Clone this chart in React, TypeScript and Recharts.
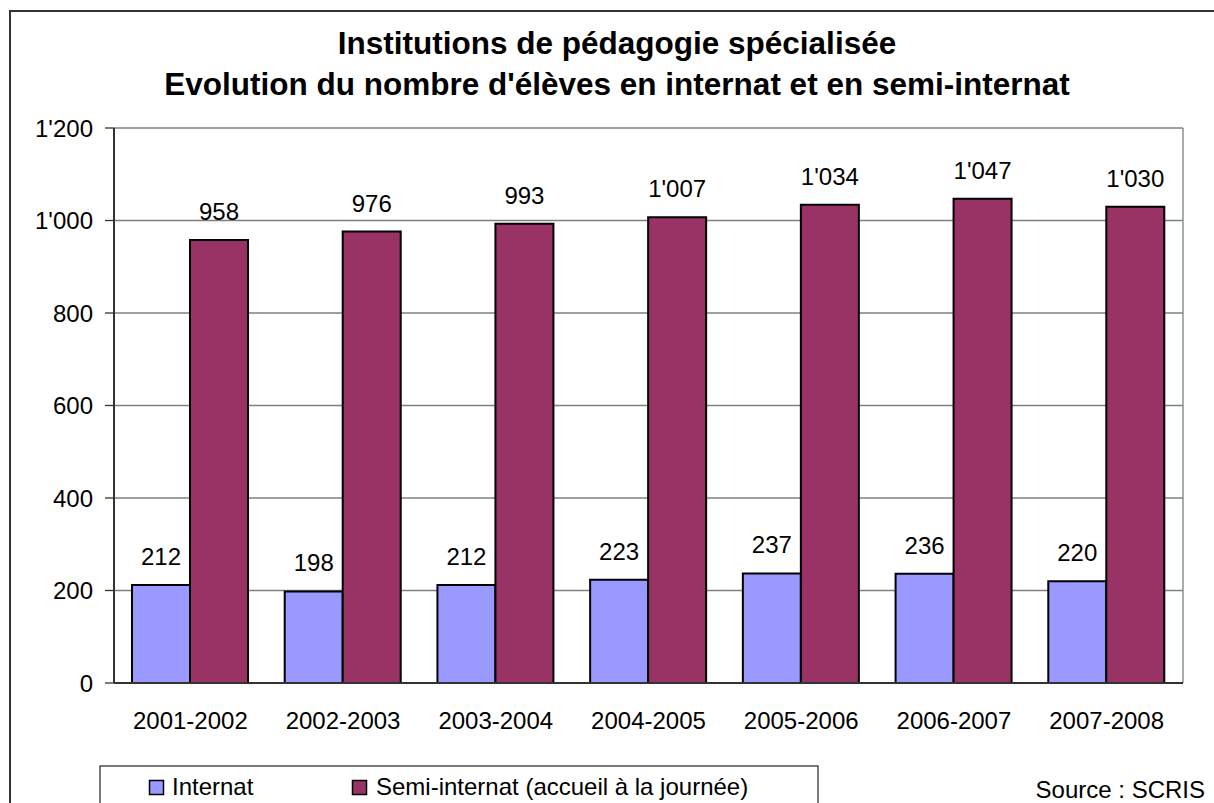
import React from "react";
import {
  BarChart,
  Bar,
  XAxis,
  YAxis,
  CartesianGrid,
  LabelList,
} from "recharts";

const years = [
  "2001-2002",
  "2002-2003",
  "2003-2004",
  "2004-2005",
  "2005-2006",
  "2006-2007",
  "2007-2008",
];
const internat = [212, 198, 212, 223, 237, 236, 220];
const semiInternat = [958, 976, 993, 1007, 1034, 1047, 1030];
const yTicks = [0, 200, 400, 600, 800, 1000, 1200];

const titleLines = [
  "Institutions de pédagogie spécialisée",
  "Evolution du nombre d'élèves en internat et en semi-internat",
];
const seriesNames = ["Internat", "Semi-internat (accueil à la journée)"];
const source = "Source : SCRIS";

const COLOR_INT = "#9999FF";
const COLOR_SEMI = "#993366";
const FONT = "'Liberation Sans', Arial, Helvetica, sans-serif";

const data = years.map((y, i) => ({
  year: y,
  internat: internat[i],
  semi: semiInternat[i],
}));

// swiss style thousands: 1'000
function fmt(v: number): string {
  return String(v).replace(/\B(?=(\d{3})+(?!\d))/g, "'");
}

export default function App() {
  return (
    <div
      style={{
        position: "absolute",
        left: 0,
        top: 0,
        width: 1214,
        height: 803,
        overflow: "hidden",
        background: "#fff",
        fontFamily: FONT,
      }}
    >
      {/* outer frame, cut off on the right and bottom */}
      <div
        style={{
          position: "absolute",
          left: 9,
          top: 10,
          width: 1300,
          height: 900,
          border: "2px solid #333",
        }}
      />
      <div style={{ position: "absolute", left: 0, top: 0 }}>
        <BarChart
          width={1214}
          height={803}
          data={data}
          margin={{ top: 128, right: 31, bottom: 80, left: 0 }}
          barCategoryGap={18}
          barGap={0}
        >
          <CartesianGrid
            stroke="#808080"
            strokeWidth={1.3}
            verticalCoordinatesGenerator={({ offset }: any) => [
              offset.left + offset.width,
            ]}
          />
          <XAxis
            dataKey="year"
            height={40}
            tickLine={false}
            tickSize={0}
            tickMargin={29}
            axisLine={{ stroke: "#333", strokeWidth: 2 }}
            tick={{ fill: "#000", fontSize: 24, fontFamily: FONT }}
          />
          <YAxis
            width={114}
            domain={[0, 1200]}
            ticks={yTicks}
            interval={0}
            tickFormatter={fmt}
            tickSize={9}
            tickMargin={12}
            axisLine={{ stroke: "#333", strokeWidth: 2 }}
            tickLine={{ stroke: "#333", strokeWidth: 1.3 }}
            tick={{ fill: "#000", fontSize: 24, fontFamily: FONT }}
          />
          <Bar
            dataKey="internat"
            fill={COLOR_INT}
            stroke="#000"
            strokeWidth={2}
            isAnimationActive={false}
          >
            <LabelList
              dataKey="internat"
              position="top"
              offset={20}
              formatter={(v: any) => fmt(Number(v))}
              style={{ fill: "#000", fontSize: 24, fontFamily: FONT }}
            />
          </Bar>
          <Bar
            dataKey="semi"
            fill={COLOR_SEMI}
            stroke="#000"
            strokeWidth={2}
            isAnimationActive={false}
          >
            <LabelList
              dataKey="semi"
              position="top"
              offset={20}
              formatter={(v: any) => fmt(Number(v))}
              style={{ fill: "#000", fontSize: 24, fontFamily: FONT }}
            />
          </Bar>
        </BarChart>
      </div>
      <svg
        width={1214}
        height={803}
        style={{ position: "absolute", left: 0, top: 0, pointerEvents: "none" }}
      >
        <text
          x={617}
          y={54}
          textAnchor="middle"
          fontSize={31.5}
          fontWeight="bold"
          fontFamily={FONT}
          fill="#000"
        >
          {titleLines[0]}
        </text>
        <text
          x={617}
          y={95}
          textAnchor="middle"
          fontSize={31.5}
          fontWeight="bold"
          fontFamily={FONT}
          fill="#000"
        >
          {titleLines[1]}
        </text>

        {/* legend */}
        <rect x={100} y={766} width={718} height={80} fill="#fff" stroke="#333" strokeWidth={1.3} />
        <rect x={149.5} y={780.5} width={14} height={14} fill={COLOR_INT} stroke="#000" strokeWidth={1.5} />
        <text x={172} y={795} fontSize={24} fontFamily={FONT} fill="#000">
          {seriesNames[0]}
        </text>
        <rect x={352.5} y={780.5} width={14} height={14} fill={COLOR_SEMI} stroke="#000" strokeWidth={1.5} />
        <text x={376} y={795} fontSize={24} fontFamily={FONT} fill="#000">
          {seriesNames[1]}
        </text>

        <text x={1205} y={798} textAnchor="end" fontSize={24} fontFamily={FONT} fill="#000">
          {source}
        </text>
      </svg>
    </div>
  );
}
